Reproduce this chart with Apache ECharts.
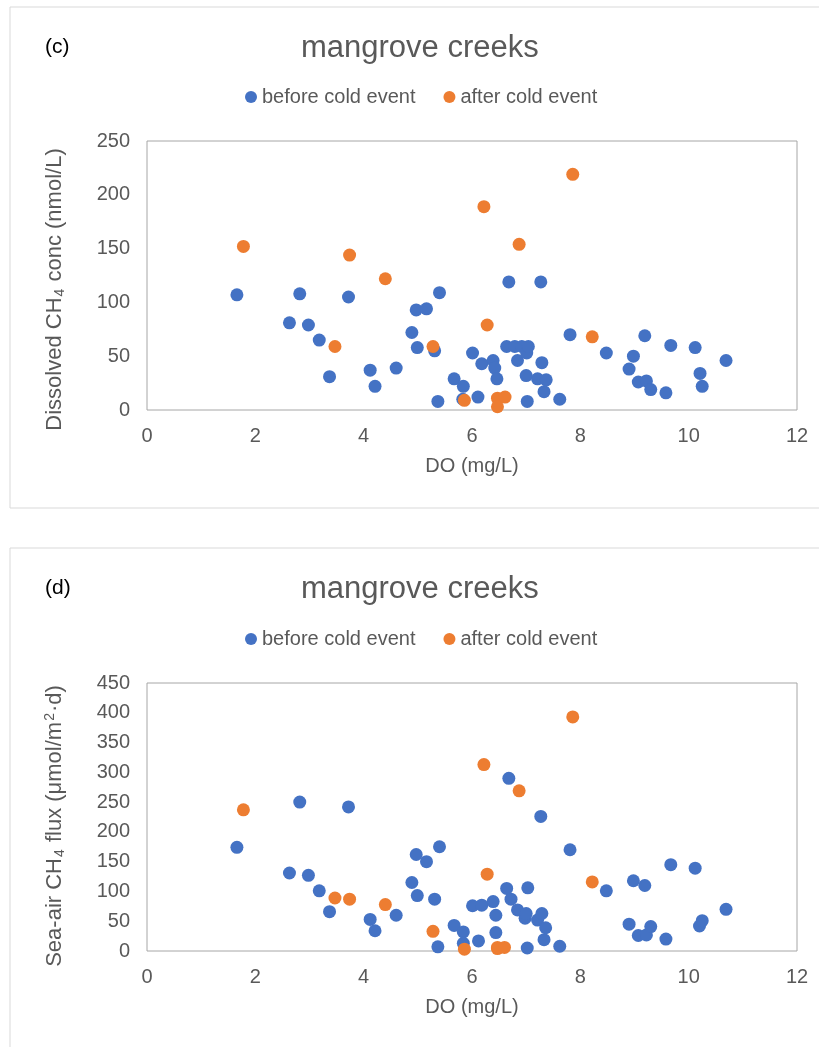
<!DOCTYPE html>
<html>
<head>
<meta charset="utf-8">
<script src="https://cdn.jsdelivr.net/npm/echarts@6/dist/echarts.min.js"></script>
<style>
    html, body { margin: 0; padding: 0; background: #fff; overflow: hidden; }
    #chart { width: 819px; height: 1047px; }
</style>
</head>
<body>
<div id="chart"></div>
<script>
// DO (mg/L) vs dissolved CH4 conc (nmol/L), panel (c)
let concBefore = [
    [1.66, 107], [2.63, 81], [2.82, 108], [2.98, 79], [3.18, 65], [3.37, 31], [3.72, 105],
    [4.12, 37], [4.21, 22], [4.60, 39], [4.89, 72], [4.97, 93], [4.99, 58], [5.16, 94],
    [5.31, 55], [5.37, 8], [5.40, 109], [5.67, 29], [5.84, 22], [5.83, 10], [6.01, 53],
    [6.11, 12], [6.18, 43], [6.39, 46], [6.42, 39], [6.46, 29], [6.64, 59], [6.68, 119],
    [6.79, 59], [6.84, 46], [6.92, 59], [7.01, 53], [7.00, 32], [7.02, 8], [7.04, 59],
    [7.21, 29], [7.27, 119], [7.29, 44], [7.33, 17], [7.37, 28], [7.62, 10], [7.81, 70],
    [8.48, 53], [8.90, 38], [8.98, 50], [9.07, 26], [9.19, 69], [9.22, 27], [9.30, 19],
    [9.58, 16], [9.67, 60], [10.12, 58], [10.21, 34], [10.25, 22], [10.69, 46]
]
let concAfter = [
    [1.78, 152], [3.47, 59], [3.74, 144], [4.40, 122], [5.28, 59], [5.86, 9], [6.22, 189],
    [6.28, 79], [6.47, 11], [6.47, 3], [6.61, 12], [6.87, 154], [7.86, 219], [8.22, 68]
]

// DO (mg/L) vs sea-air CH4 flux, panel (d)
let fluxBefore = [
    [1.66, 174], [2.63, 131], [2.82, 250], [2.98, 127], [3.18, 101], [3.37, 66], [3.72, 242],
    [4.12, 53], [4.21, 34], [4.60, 60], [4.89, 115], [4.97, 162], [4.99, 93], [5.16, 150],
    [5.31, 87], [5.37, 7], [5.40, 175], [5.67, 43], [5.84, 32], [5.84, 13], [6.01, 76],
    [6.12, 17], [6.18, 77], [6.39, 83], [6.44, 60], [6.44, 31], [6.64, 105], [6.68, 290],
    [6.72, 87], [6.84, 69], [6.98, 55], [7.00, 63], [7.02, 5], [7.03, 106], [7.21, 52],
    [7.27, 226], [7.29, 63], [7.33, 19], [7.36, 39], [7.62, 8], [7.81, 170], [8.48, 101],
    [8.90, 45], [8.98, 118], [9.07, 26], [9.19, 110], [9.22, 27], [9.30, 41], [9.58, 20],
    [9.67, 145], [10.12, 139], [10.20, 42], [10.25, 51], [10.69, 70]
]
let fluxAfter = [
    [1.78, 237], [3.47, 89], [3.74, 87], [4.40, 78], [5.28, 33], [5.86, 3], [6.22, 313],
    [6.28, 129], [6.47, 4], [6.47, 6], [6.60, 6], [6.87, 269], [7.86, 393], [8.22, 116]
]

let seriesNames = ['before cold event', 'after cold event']
let panelTitles = ['mangrove creeks', 'mangrove creeks']
let panelLabels = ['(c)', '(d)']
let xName = 'DO (mg/L)'
let yNames = ['Dissolved CH{sub|4} conc (nmol/L)', 'Sea-air CH{sub|4} flux (\u03bcmol/m{sup|2}\u00b7d)']
let yMax = [250, 450]

const grey = '#595959'
const font = 'Liberation Sans, Arial, sans-serif'
const blue = '#4472C4'
const orange = '#ED7D31'

function panelAxes(i) {
    let x = {
        type: 'value', gridIndex: i, min: 0, max: 12, interval: 2,
        name: xName, nameLocation: 'middle', nameGap: 46,
        nameTextStyle: { fontSize: 20, color: grey, fontFamily: font },
        axisLine: { show: false }, axisTick: { show: false }, splitLine: { show: false },
        axisLabel: { fontSize: 20, color: grey, fontFamily: font, margin: 16 }
    }
    let y = {
        type: 'value', gridIndex: i, min: 0, max: yMax[i], interval: 50,
        name: yNames[i], nameLocation: 'middle', nameRotate: 90, nameGap: 80,
        nameTextStyle: {
            fontSize: 22, color: grey, fontFamily: font,
            padding: i === 0 ? [0, 28, 0, 0] : [0, 18, 0, 0],
            rich: {
                sub: { fontSize: 14, color: grey, fontFamily: font, padding: [10, 1, 0, 1] },
                sup: { fontSize: 14, color: grey, fontFamily: font, padding: [0, 1, 10, 1] }
            }
        },
        axisLine: { show: false }, axisTick: { show: false }, splitLine: { show: false },
        axisLabel: { fontSize: 20, color: grey, fontFamily: font, margin: 17 }
    }
    return [x, y]
}

function scatter(name, data, color, i) {
    return {
        name: name, type: 'scatter', xAxisIndex: i, yAxisIndex: i,
        symbol: 'circle', symbolSize: 13,
        itemStyle: { color: color, opacity: 1 },
        data: data
    }
}

function panelLegend(top, names) {
    return {
        left: 245, top: top, padding: 0, itemWidth: 12, itemHeight: 12, itemGap: 28, icon: 'circle',
        formatter: n => n.trim(),
        textStyle: { fontSize: 20, color: grey, fontFamily: font },
        data: names
    }
}

let dom = document.getElementById('chart')
let myChart = echarts.init(dom, null, { renderer: 'canvas' })

let axes0 = panelAxes(0)
let axes1 = panelAxes(1)
// second panel needs its own legend entries, names padded with a space
let namesD = seriesNames.map(n => n + ' ')

option = {
    animation: false,
    color: [blue, orange],
    title: [
        { text: panelTitles[0], left: 296, top: 28, textStyle: { fontSize: 31, fontWeight: 'normal', color: grey, fontFamily: font } },
        { text: panelTitles[1], left: 296, top: 569, textStyle: { fontSize: 31, fontWeight: 'normal', color: grey, fontFamily: font } },
        { text: panelLabels[0], left: 40, top: 32, textStyle: { fontSize: 21, fontWeight: 'normal', color: '#000', fontFamily: font } },
        { text: panelLabels[1], left: 40, top: 573, textStyle: { fontSize: 21, fontWeight: 'normal', color: '#000', fontFamily: font } }
    ],
    legend: [panelLegend(87, seriesNames), panelLegend(629, namesD)],
    grid: [
        { left: 147, top: 141, width: 650, height: 269, show: true, borderColor: '#a6a6a6', borderWidth: 1 },
        { left: 147, top: 683, width: 650, height: 268, show: true, borderColor: '#a6a6a6', borderWidth: 1 }
    ],
    xAxis: [axes0[0], axes1[0]],
    yAxis: [axes0[1], axes1[1]],
    series: [
        scatter(seriesNames[0], concBefore, blue, 0),
        scatter(seriesNames[1], concAfter, orange, 0),
        scatter(namesD[0], fluxBefore, blue, 1),
        scatter(namesD[1], fluxAfter, orange, 1)
    ],
    graphic: [
        { type: 'rect', shape: { x: 10, y: 7, width: 840, height: 501 }, style: { fill: 'none', stroke: '#d9d9d9', lineWidth: 1 }, silent: true },
        { type: 'rect', shape: { x: 10, y: 548, width: 840, height: 540 }, style: { fill: 'none', stroke: '#d9d9d9', lineWidth: 1 }, silent: true }
    ]
};
if (option && typeof option === 'object') {
    myChart.setOption(option);
}
</script>
</body>
</html>
